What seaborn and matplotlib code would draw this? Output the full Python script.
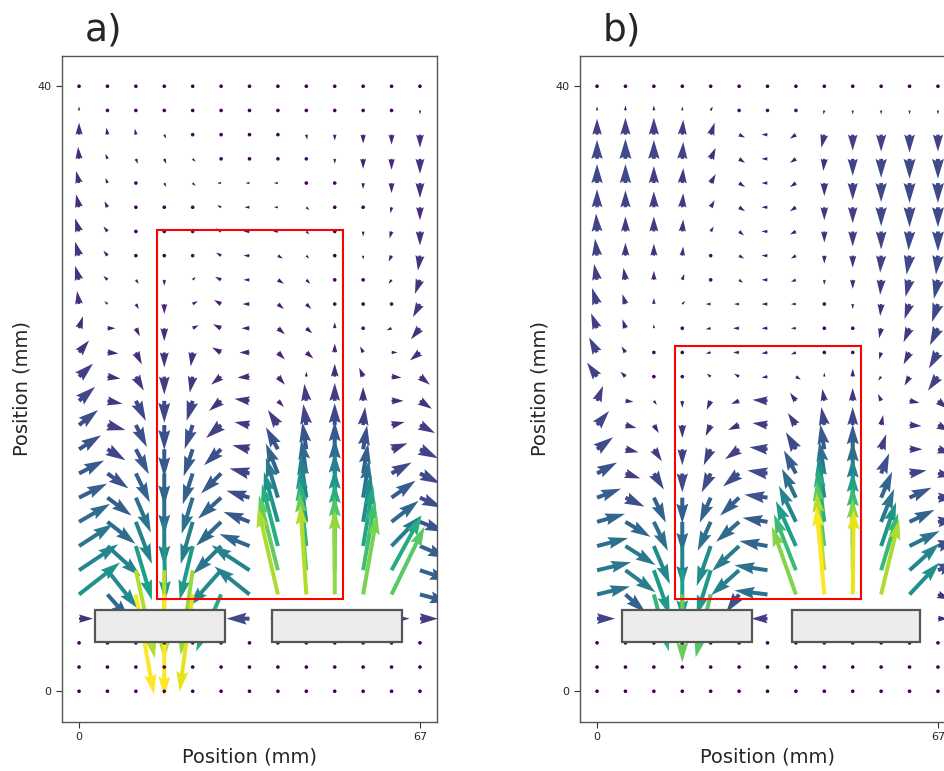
import numpy as np
import matplotlib
matplotlib.use("Agg")
import matplotlib.pyplot as plt
from matplotlib.patches import Rectangle
import seaborn as sns

sns.set_theme(style="white")
plt.rcParams['font.family'] = ['DejaVu Sans']

# grid (mm)
x_pos = np.linspace(0, 67, 13)
y_pos = np.linspace(40, 0, 26)
x_ticks = [0, 67]
y_ticks = [0, 40]
panel_labels = ["a)", "b)"]

# ---------------- panel a: velocity components (rows top->bottom) ----------
U_a = [
    [0]*13,
    [0]*13,
    [0, -1, -1, 2, 1, 0, 0, -2, 1, 0, 0, 0, 0],
    [-1, -2, 2, 2, 3, -3, 0, -3, 2, 0, 0, 0, 0],
    [-3, -2, 1, 2, 3, -4, -4, -4, 0, 0, 0, 0, 0],
    [-3, -3, 0, 0, -2, -4, -5, -4, 3, 0, 0, -1, 0],
    [-4, -4, 0, 0, 3, -5, -6, -5, 3, 0, 0, -2, 0],
    [-4, -4, 1, 0, 3, -5, -6, 5, 3, 0, 0, -3, -2],
    [-4, -4, 3, 0, 3, -6, -6, 6, 4, 0, 0, -3, -5],
    [-2, -3, 3, 0, 5, -7, -7, 6, 5, 0, 0, -3, -7],
    [4, 8, 4, 0, 6, -8, -8, 7, 6, 0, -2, -5, -9],
    [10, 11, 6, 0, -2, -9, -10, 7, 7, 0, -3, 6, -10],
    [14, 13, 8, 0, -3, -10, -12, 7, 0, 0, -4, 10, 10],
    [16, 15, 10, 0, -6, -12, -15, 6, -2, 0, 0, 12, 12],
    [19, 18, 11, 0, -8, -15, -15, -10, -3, 0, 2, 13, 15],
    [22, 18, 13, 0, -9, -17, -17, -12, -4, 0, 4, 16, 18],
    [25, 21, 14, 0, -10, -20, -20, -12, -5, 0, 5, 20, 20],
    [28, 24, 15, 0, -11, -23, -23, -12, -6, 0, 6, 24, 22],
    [31, 28, 16, 0, -12, -25, -26, -14, -7, 0, 8, 27, 25],
    [34, 33, 16, 1, -13, -28, -30, -16, -7, 0, 10, 29, 28],
    [39, 30, 19, 0, -12, -32, -38, -19, -7, 0, 12, 30, 30],
    [41, 22, 18, 0, -13, -25, -35, -20, -6, 0, 14, 33, 30],
    [14, 0, 0, 0, 0, 0, -23, -8, 0, 0, 0, 18, 18],
    [0]*13,
    [0]*13,
    [0]*13,
]
V_a = [
    [0]*13,
    [4, 3, 0, 0, 0, 0, 0, 0, 0, 0, 0, -2, -4],
    [12, 7, 6, -4, -2, 0, 0, 1, -5, -6, -9, -10, -13],
    [12, 5, -5, -5, -3, 0, 0, 1, -3, -5, -10, -11, -15],
    [12, 5, -2, -4, -3, 0, 0, 0, 0, -2, -6, -10, -15],
    [13, 6, 0, 0, 0, 2, 0, 0, -3, 0, 0, -6, -13],
    [13, 5, 0, 0, 2, 3, 0, 0, -3, 0, -5, -7, -14],
    [14, 5, -1, 0, 2, 3, 0, -3, -3, 0, -4, -6, -15],
    [14, 4, -4, -6, 3, 3, 0, -4, -4, 0, 0, -4, -14],
    [13, 3, -5, -10, 3, 4, 0, -5, -5, 3, 0, -2, -13],
    [12, 0, -8, -13, 3, 4, 0, -6, -5, 6, 3, -2, -11],
    [12, -1, -12, -15, -14, 5, 0, -7, -6, 9, 6, 0, -8],
    [13, -2, -14, -18, -16, -8, -1, -8, 5, 13, 9, -1, -8],
    [14, -3, -20, -22, -20, -10, 2, -6, 17, 18, 14, 0, -8],
    [15, -5, -22, -25, -24, -13, 3, 15, 21, 22, 18, 3, -8],
    [14, -11, -25, -28, -27, -16, 4, 22, 27, 28, 24, 6, -9],
    [13, -15, -29, -32, -31, -20, 5, 30, 34, 35, 30, 11, -10],
    [14, -18, -35, -37, -36, -21, 7, 40, 43, 45, 38, 17, -10],
    [18, -22, -42, -44, -42, -24, 10, 50, 53, 53, 48, 21, -10],
    [22, -30, -54, -55, -54, -28, 12, 62, 65, 63, 60, 30, -12],
    [26, -38, -88, -90, -85, -36, 25, 75, 78, 74, 70, 55, -10],
    [32, -25, -100, -102, -97, -57, 28, 87, 90, 85, 80, 68, -8],
    [0]*13,
    [0]*13,
    [0]*13,
    [0]*13,
]

# ---------------- panel b ----------------
U_b = [
    [0]*13,
    [0, 0, 0, 0, 2, 3, -3, -3, -1, 0, 0, 0, 0],
    [0, 0, 0, 1, 4, 6, -6, -6, -3, 0, 0, 0, 0],
    [0, 0, 0, 1, 5, 6, -6, -6, -1, 0, 0, 0, 0],
    [0, 0, 0, 1, 5, 6, -6, -6, 0, 0, 0, 0, 0],
    [0, 0, 0, 1, 4, 6, -6, -6, 0, 0, 0, 0, 0],
    [-1, 0, 0, 1, 3, 5, -6, -6, 0, 0, 0, -1, 0],
    [-2, 0, 0, 1, 2, 5, -6, -5, 0, 0, -1, -3, -2],
    [-3, -2, 0, 2, 1, 4, -6, -5, 0, 0, -1, -4, -4],
    [-5, -3, 0, 3, -5, -5, -6, -5, -1, 0, -1, -5, -6],
    [-6, -3, 0, 2, -5, -6, -6, -5, 0, 0, -2, -6, -8],
    [-8, -4, 0, 0, -5, -6, -6, -5, 0, -3, -2, -6, -9],
    [-10, -5, 0, 1, -4, -5, -6, 5, 0, 0, -3, -5, -10],
    [6, 8, 3, 0, -4, -8, -15, -6, -2, 0, -3, 10, 10],
    [12, 11, 5, 0, -5, -11, -15, -8, -3, 0, 2, 12, 12],
    [16, 13, 8, 0, -7, -14, -18, -10, -4, 0, 5, 13, 14],
    [20, 15, 10, 0, -9, -16, -20, -12, -5, 0, 8, 17, 15],
    [24, 19, 12, 0, -11, -19, -23, -14, -6, 0, 11, 22, 17],
    [28, 25, 14, 0, -13, -23, -25, -17, -7, 0, 13, 25, 18],
    [31, 30, 16, 0, -14, -27, -28, -20, -8, 0, 15, 30, 20],
    [34, 30, 16, 0, -14, -28, -33, -22, -8, 0, 17, 30, 20],
    [33, 20, 15, 0, -15, -13, -33, -24, -8, 1, 18, 30, 12],
    [18, 0, 0, 0, 0, 0, -16, -5, 0, 0, 0, 10, 10],
    [0]*13,
    [0]*13,
    [0]*13,
]
V_b = [
    [0]*13,
    [4, 5, 5, 4, 4, -2, 0, -2, -4, -4, -4, -4, -4],
    [16, 17, 17, 15, 12, -3, 0, -4, -13, -16, -17, -18, -17],
    [19, 20, 19, 17, 11, -4, 0, -4, -12, -17, -19, -20, -20],
    [19, 19, 17, 15, 9, -4, 0, -4, -13, -17, -19, -20, -20],
    [18, 17, 16, 14, 7, -4, 0, -4, -13, -16, -19, -20, -20],
    [18, 15, 15, 12, 5, -4, 0, -3, -11, -15, -18, -19, -20],
    [17, 13, 12, 9, 3, -3, 0, -3, -8, -12, -17, -19, -19],
    [16, 12, 9, 6, 2, -3, 0, -2, -5, -9, -15, -17, -19],
    [16, 10, 6, 3, 0, 0, 0, 0, -3, -5, -12, -15, -18],
    [15, 9, 4, 1, -1, 0, 0, 0, 0, 0, -10, -14, -17],
    [15, 6, 2, 0, -1, 0, -1, -2, 0, 0, -7, -12, -16],
    [14, 5, 0, -2, 3, 3, -1, -3, 4, 8, -4, -9, -14],
    [15, -1, -4, -7, -9, -3, 1, 8, 12, 13, 7, -2, -8],
    [14, -3, -8, -13, -11, -5, 2, 12, 18, 18, 10, -1, -6],
    [12, -3, -12, -16, -16, -10, 2, 17, 25, 25, 15, 0, -4],
    [11, -5, -16, -19, -19, -13, 3, 23, 32, 32, 20, 3, -3],
    [9, -9, -25, -26, -25, -18, 3, 29, 42, 40, 26, 10, 0],
    [8, -15, -29, -31, -29, -20, 4, 36, 55, 50, 33, 12, 2],
    [8, -19, -38, -40, -40, -25, 5, 45, 65, 60, 44, 15, 5],
    [8, -22, -45, -50, -45, -25, 5, 56, 78, 72, 57, 27, 8],
    [8, -18, -57, -68, -63, -18, 4, 68, 88, 85, 75, 32, -5],
    [0]*13,
    [0]*13,
    [0]*13,
    [0]*13,
]

# obstacles (x0, x1, y0, y1) and region of interest
plates_a = [(3.2, 28.6, 3.25, 5.35), (38.0, 63.4, 3.25, 5.35)]
plates_b = [(4.85, 30.4, 3.25, 5.35), (38.25, 63.45, 3.25, 5.35)]
roi_a = (15.3, 51.9, 6.1, 30.5)
roi_b = (15.3, 51.9, 6.1, 22.8)

W, H = 945, 771
fig = plt.figure(figsize=(W / 100, H / 100), dpi=100)
cmap = sns.color_palette("viridis", as_cmap=True)

ax_left_px = [62, 580]
panels = [(U_a, V_a, plates_a, roi_a), (U_b, V_b, plates_b, roi_b)]
XX, YY = np.meshgrid(x_pos, y_pos)
for k, (U, V, plates, roi) in enumerate(panels):
    ax = fig.add_axes([ax_left_px[k] / W, 1 - 721.5 / H, 375 / W, 665.5 / H])
    U = np.array(U, float)
    V = np.array(V, float)
    M = np.hypot(U, V)
    ax.quiver(XX, YY, U, V, M, cmap=cmap, angles='uv', scale_units='dots',
              scale=1, units='dots', width=4.0, pivot='tail', zorder=2)
    for (x0, x1, y0, y1) in plates:
        ax.add_patch(Rectangle((x0, y0), x1 - x0, y1 - y0, facecolor='#ececec',
                               edgecolor='#555555', lw=1.6, zorder=4))
    x0, x1, y0, y1 = roi
    ax.add_patch(Rectangle((x0, y0), x1 - x0, y1 - y0, facecolor='none',
                           edgecolor='red', lw=1.5, zorder=3))
    ax.set_xlim(-3.35, 70.35)
    ax.set_ylim(-2, 42)
    ax.set_xticks(x_ticks)
    ax.set_yticks(y_ticks)
    ax.tick_params(axis='both', which='both', length=4, width=0.8, labelsize=8,
                   color='#333333', direction='out', left=True, bottom=True)
    for s in ax.spines.values():
        s.set_edgecolor('#555555')
        s.set_linewidth(1.0)
    ax.set_xlabel("Position (mm)", fontsize=14)
    ax.set_ylabel("Position (mm)", fontsize=14)
    fig.text((ax_left_px[k] + 23) / W, 1 - 40 / H, panel_labels[k], fontsize=27,
             ha='left', va='baseline')

fig.savefig("out.png", dpi=100)
